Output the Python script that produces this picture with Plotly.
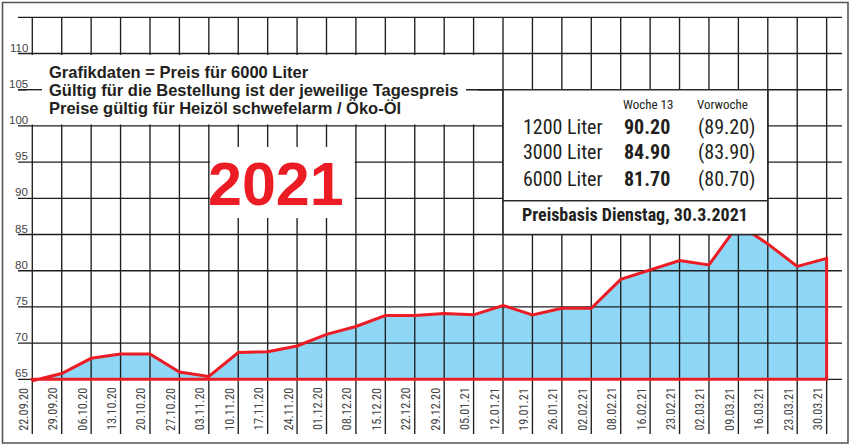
import plotly.graph_objects as go

# ---------------- data ----------------
dates = ["22.09.20", "29.09.20", "06.10.20", "13.10.20", "20.10.20", "27.10.20",
         "03.11.20", "10.11.20", "17.11.20", "24.11.20", "01.12.20", "08.12.20",
         "15.12.20", "22.12.20", "29.12.20", "05.01.21", "12.01.21", "19.01.21",
         "26.01.21", "02.02.21", "08.02.21", "16.02.21", "23.02.21", "02.03.21",
         "09.03.21", "16.03.21", "23.03.21", "30.03.21"]
prices = [64.8, 65.8, 67.9, 68.5, 68.5, 66.0, 65.4, 68.7, 68.8, 69.6, 71.2, 72.3,
          73.8, 73.8, 74.1, 73.9, 75.2, 73.9, 74.8, 74.8, 78.8, 80.1, 81.4, 80.8,
          86.4, 83.7, 80.6, 81.7]
base_value = 65
y_tick_values = [65, 70, 75, 80, 85, 90, 95, 100, 105, 110]
y_tick_labels = ["65", "70", "75", "80", "85", "90", "95", "100", "105", "110"]
grid_top = 115

note_lines = ["Grafikdaten = Preis für 6000 Liter",
              "Gültig für die Bestellung ist der jeweilige Tagespreis",
              "Preise gültig für Heizöl schwefelarm / Öko-Öl"]
year_label = "2021"
info_head_current = "Woche 13"
info_head_previous = "Vorwoche"
info_rows = ["1200 Liter", "3000 Liter", "6000 Liter"]
info_current = ["90.20", "84.90", "81.70"]
info_previous = ["(89.20)", "(83.90)", "(80.70)"]
info_footer = "Preisbasis Dienstag, 30.3.2021"

# ---------------- styling ----------------
RED = "#EC1C24"
BLUE = "#8ED7F6"
GRID = "#1e1e1e"
NARROW = ("Liberation Sans Narrow, Noto Sans Condensed, Roboto Condensed, "
          "Arial Narrow, Liberation Sans, sans-serif")
SANS = "Liberation Sans, Arial, sans-serif"

W, H = 858, 446
ML, MR, MT, MB = 18, 16, 16, 12
X0_PX, DX_PX = 32.3, 29.42      # pixel of first category, pixels per category
Y65_PX, DY_PX = 379.3, 7.24     # pixel of value 65, pixels per unit


def px_x(px):
    return (px - X0_PX) / DX_PX


def px_y(py):
    return 65 + (Y65_PX - py) / DY_PX


def paper_x(px):
    return (px - ML) / (W - ML - MR)


def paper_y(py):
    return (H - MB - py) / (H - MT - MB)


n = len(dates)
xi = list(range(n))
x_lo, x_hi = px_x(ML), px_x(W - MR)
y_lo, y_hi = px_y(H - MB), px_y(MT)

fig = go.Figure()

# filled area (polygon closed along the base line)
poly_x = xi + [xi[-1], xi[0]]
poly_y = prices + [base_value, base_value]
fig.add_trace(go.Scatter(x=poly_x, y=poly_y, mode="lines", fill="toself",
                         fillcolor=BLUE, line=dict(width=0), hoverinfo="skip",
                         showlegend=False))

# grid drawn above the fill
gx, gy = [], []
for v in y_tick_values + [grid_top]:
    gx += [x_lo, x_hi, None]
    gy += [v, v, None]
for i in xi:
    gx += [i, i, None]
    gy += [y_lo, grid_top, None]
fig.add_trace(go.Scatter(x=gx, y=gy, mode="lines", line=dict(color=GRID, width=1.35),
                         hoverinfo="skip", showlegend=False))

# red outline
fig.add_trace(go.Scatter(x=poly_x + [xi[0]], y=poly_y + [prices[0]], mode="lines",
                         line=dict(color=RED, width=3), hoverinfo="skip",
                         showlegend=False))

shapes = []
# white area behind note text (hides grid between 110 and 100)
shapes.append(dict(type="rect", xref="x", yref="y", x0=px_x(27), x1=px_x(478),
                   y0=100.2, y1=109.8, fillcolor="white", line=dict(width=0),
                   layer="above"))
# stubs of the 105 line
shapes.append(dict(type="line", xref="x", yref="y", x0=x_lo, x1=px_x(42), y0=105, y1=105,
                   line=dict(color=GRID, width=1.35), layer="above"))
shapes.append(dict(type="line", xref="x", yref="y", x0=px_x(466), x1=16, y0=105, y1=105,
                   line=dict(color=GRID, width=1.35), layer="above"))
# white area behind the year
shapes.append(dict(type="rect", xref="x", yref="y", x0=6.04, x1=10.96,
                   y0=px_y(218), y1=px_y(147), fillcolor="white", line=dict(width=0),
                   layer="above"))
# info box
shapes.append(dict(type="rect", xref="x", yref="y", x0=16, x1=25, y0=85, y1=105,
                   fillcolor="white", line=dict(color="#2a2a2a", width=1.6),
                   layer="above"))
shapes.append(dict(type="line", xref="x", yref="y", x0=16, x1=25,
                   y0=px_y(200.7), y1=px_y(200.7),
                   line=dict(color="#2a2a2a", width=1.4), layer="above"))
# outer frame
shapes.append(dict(type="rect", xref="paper", yref="paper",
                   x0=paper_x(2.5), x1=paper_x(848), y0=paper_y(443), y1=paper_y(2.5),
                   fillcolor="rgba(0,0,0,0)", line=dict(color="#555555", width=1.6),
                   layer="above"))

ann = []
# y labels
for v, t in zip(y_tick_values, y_tick_labels):
    ann.append(dict(xref="paper", yref="y", x=paper_x(29.8), y=v, xanchor="right",
                    yanchor="bottom", yshift=-2, text=t, showarrow=False,
                    font=dict(family=SANS, size=11.5, color="#444444")))
# x labels (rotated)
for i, d in zip(xi, dates):
    ann.append(dict(xref="x", yref="paper", x=i, y=paper_y(432.5), xanchor="right",
                    yanchor="bottom", xshift=0.5, textangle=-90, text=d, showarrow=False,
                    font=dict(family=NARROW, size=12.3, color="#444444")))
# note text
for k, line in enumerate(note_lines):
    ann.append(dict(xref="x", yref="y", x=px_x(47), y=px_y(71.7 + 18.3 * k),
                    xanchor="left", yanchor="middle", text="<b>" + line + "</b>",
                    showarrow=False, font=dict(family=SANS, size=16.5, color="#231f20")))
# year
ann.append(dict(xref="x", yref="y", x=px_x(275.5), y=px_y(183.5), xanchor="center",
                yanchor="middle", text="<b>" + year_label + "</b>", showarrow=False,
                font=dict(family=SANS, size=61, color=RED)))
# info box texts
ann.append(dict(xref="x", yref="y", x=px_x(647.5), y=px_y(104), xanchor="center",
                yanchor="middle", text=info_head_current, showarrow=False,
                font=dict(family=NARROW, size=13, color="#231f20")))
ann.append(dict(xref="x", yref="y", x=px_x(722.5), y=px_y(104), xanchor="center",
                yanchor="middle", text=info_head_previous, showarrow=False,
                font=dict(family=NARROW, size=13, color="#231f20")))
row_centers = [126.7, 151.7, 179.0]
for yc, r, c, p in zip(row_centers, info_rows, info_current, info_previous):
    ann.append(dict(xref="x", yref="y", x=px_x(520.5), y=px_y(yc), xanchor="left",
                    yanchor="middle", text=r, showarrow=False,
                    font=dict(family=NARROW, size=20, color="#231f20")))
    ann.append(dict(xref="x", yref="y", x=px_x(622), y=px_y(yc), xanchor="left",
                    yanchor="middle", text="<b>" + c + "</b>", showarrow=False,
                    font=dict(family=NARROW, size=20, color="#231f20")))
    ann.append(dict(xref="x", yref="y", x=px_x(695.5), y=px_y(yc), xanchor="left",
                    yanchor="middle", text=p, showarrow=False,
                    font=dict(family=NARROW, size=20, color="#231f20")))
ann.append(dict(xref="x", yref="y", x=px_x(520), y=px_y(214), xanchor="left",
                yanchor="middle", text="<b>" + info_footer + "</b>", showarrow=False,
                font=dict(family=NARROW, size=18, color="#231f20")))

fig.update_layout(
    width=W, height=H,
    margin=dict(l=ML, r=MR, t=MT, b=MB, pad=0),
    paper_bgcolor="white", plot_bgcolor="white",
    xaxis=dict(range=[x_lo, x_hi], showgrid=False, zeroline=False,
               showticklabels=False, ticks="", showline=False, fixedrange=True),
    yaxis=dict(range=[y_lo, y_hi], showgrid=False, zeroline=False,
               showticklabels=False, ticks="", showline=False, fixedrange=True),
    shapes=shapes, annotations=ann, showlegend=False,
)

fig.write_html("out.html", config={"displayModeBar": False},
               post_script="document.body.style.margin='0';"
                           "document.body.style.overflow='hidden';")
